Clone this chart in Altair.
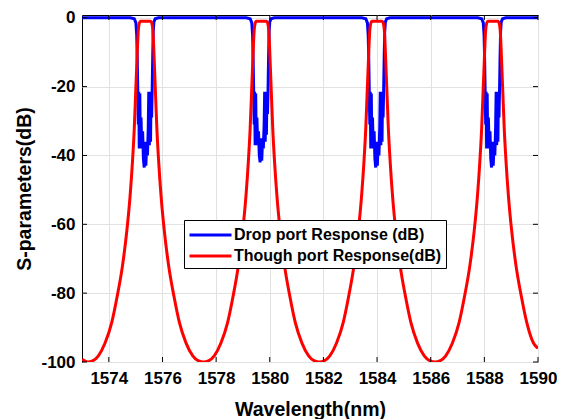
import altair as alt
import pandas as pd

DROP = "Drop port Response (dB)"
THRU = "Though port Response(dB)"

x_ticks = [1574, 1576, 1578, 1580, 1582, 1584, 1586, 1588, 1590]
y_ticks = [0, -20, -40, -60, -80, -100]

drop_wl = [
    1573.00, 1574.80,
    1574.95, 1575.01, 1575.04, 1575.06, 1575.08, 1575.10, 1575.115, 1575.135, 1575.155, 1575.175,
    1575.20, 1575.23, 1575.26, 1575.29, 1575.32, 1575.35, 1575.38, 1575.41, 1575.44, 1575.47,
    1575.49, 1575.51, 1575.535, 1575.555, 1575.575, 1575.595, 1575.615, 1575.635, 1575.655, 1575.68, 1575.73,
    1575.85, 1579.12,
    1579.27, 1579.33, 1579.36, 1579.38, 1579.40, 1579.42, 1579.435, 1579.455, 1579.475, 1579.495,
    1579.52, 1579.55, 1579.58, 1579.61, 1579.64, 1579.67, 1579.70, 1579.73, 1579.76, 1579.79,
    1579.81, 1579.83, 1579.855, 1579.875, 1579.895, 1579.915, 1579.935, 1579.955, 1579.975, 1580.00, 1580.05,
    1580.17, 1583.43,
    1583.58, 1583.64, 1583.67, 1583.69, 1583.71, 1583.73, 1583.745, 1583.765, 1583.785, 1583.805,
    1583.83, 1583.86, 1583.89, 1583.92, 1583.95, 1583.98, 1584.01, 1584.04, 1584.07, 1584.10,
    1584.12, 1584.14, 1584.165, 1584.185, 1584.205, 1584.225, 1584.245, 1584.265, 1584.285, 1584.31, 1584.36,
    1584.48, 1587.75,
    1587.90, 1587.96, 1587.99, 1588.01, 1588.03, 1588.05, 1588.065, 1588.085, 1588.105, 1588.125,
    1588.15, 1588.18, 1588.21, 1588.24, 1588.27, 1588.30, 1588.33, 1588.36, 1588.39, 1588.42,
    1588.44, 1588.46, 1588.485, 1588.505, 1588.525, 1588.545, 1588.565, 1588.585, 1588.605, 1588.63, 1588.68,
    1588.80, 1590.00,
]
drop_db = [
    0, 0,
    -0.3, -1.5, -5, -12, -21.5, -31, -21.5, -38, -22, -37,
    -29, -38, -33, -41, -43.5, -36, -43, -37, -40, -32,
    -21.5, -37, -22, -36, -21.5, -29, -21.5, -12, -4, -1.2, -0.3,
    0, 0,
    -0.3, -1.5, -5, -12, -21.5, -31, -21.5, -37, -22, -36,
    -29, -37, -33, -40, -42, -35, -41.5, -36, -38, -31,
    -21.5, -36, -22, -34, -21.5, -28, -21.5, -12, -4, -1.2, -0.3,
    0, 0,
    -0.3, -1.5, -5, -12, -21.5, -31, -21.5, -38, -22, -37,
    -29, -38, -33, -41, -43.5, -36, -43, -37, -40, -32,
    -21.5, -37, -22, -36, -21.5, -29, -21.5, -12, -4, -1.2, -0.3,
    0, 0,
    -0.3, -1.5, -5, -12, -21.5, -31, -21.5, -38, -22, -37,
    -29, -38, -33, -41, -43.5, -36, -43, -37, -40, -32,
    -21.5, -37, -22, -36, -21.5, -29, -21.5, -12, -4, -1.2, -0.3,
    0, 0,
]

through_wl = [
    1573.00, 1573.21,
    1573.41, 1573.61, 1573.86, 1574.11, 1574.31, 1574.51, 1574.67, 1574.79,
    1574.88, 1574.95, 1575.00, 1575.04, 1575.07, 1575.10, 1575.14, 1575.18,
    1575.56, 1575.60, 1575.64, 1575.67, 1575.70, 1575.74, 1575.79, 1575.86,
    1575.95, 1576.07, 1576.23, 1576.43, 1576.63, 1576.88, 1577.13, 1577.33, 1577.53,
    1577.73, 1577.93, 1578.18, 1578.43, 1578.63, 1578.83, 1578.99, 1579.11,
    1579.20, 1579.27, 1579.32, 1579.36, 1579.39, 1579.42, 1579.46, 1579.50,
    1579.88, 1579.92, 1579.96, 1579.99, 1580.02, 1580.06, 1580.11, 1580.18,
    1580.27, 1580.39, 1580.55, 1580.75, 1580.95, 1581.20, 1581.45, 1581.65, 1581.85,
    1582.04, 1582.24, 1582.49, 1582.74, 1582.94, 1583.14, 1583.30, 1583.42,
    1583.51, 1583.58, 1583.63, 1583.67, 1583.70, 1583.73, 1583.77, 1583.81,
    1584.19, 1584.23, 1584.27, 1584.30, 1584.33, 1584.37, 1584.42, 1584.49,
    1584.58, 1584.70, 1584.86, 1585.06, 1585.26, 1585.51, 1585.76, 1585.96, 1586.16,
    1586.36, 1586.56, 1586.81, 1587.06, 1587.26, 1587.46, 1587.62, 1587.74,
    1587.83, 1587.90, 1587.95, 1587.99, 1588.02, 1588.05, 1588.09, 1588.13,
    1588.51, 1588.55, 1588.59, 1588.62, 1588.65, 1588.69, 1588.74, 1588.81,
    1588.90, 1589.02, 1589.18, 1589.38, 1589.58, 1589.83, 1590.00,
]
through_db = [
    -99.2, -100,
    -99.6, -98.2, -94.5, -88.5, -81, -72, -62, -52,
    -42, -32, -22, -14, -8, -3.5, -1.5, -1,
    -1, -1.5, -3.5, -8, -14, -22, -32, -42,
    -52, -62, -72, -81, -88.5, -94.5, -98.2, -99.6, -100,
    -99.6, -98.2, -94.5, -88.5, -81, -72, -62, -52,
    -42, -32, -22, -14, -8, -3.5, -1.5, -1,
    -1, -1.5, -3.5, -8, -14, -22, -32, -42,
    -52, -62, -72, -81, -88.5, -94.5, -98.2, -99.6, -100,
    -99.6, -98.2, -94.5, -88.5, -81, -72, -62, -52,
    -42, -32, -22, -14, -8, -3.5, -1.5, -1,
    -1, -1.5, -3.5, -8, -14, -22, -32, -42,
    -52, -62, -72, -81, -88.5, -94.5, -98.2, -99.6, -100,
    -99.6, -98.2, -94.5, -88.5, -81, -72, -62, -52,
    -42, -32, -22, -14, -8, -3.5, -1.5, -1,
    -1, -1.5, -3.5, -8, -14, -22, -32, -42,
    -52, -62, -72, -81, -88.5, -94.5, -96,
]

W, H = 456, 347
FONT = "Liberation Sans"

drop_df = pd.DataFrame({"wl": drop_wl, "db": drop_db, "series": DROP,
                        "i": list(range(len(drop_wl)))})
thru_df = pd.DataFrame({"wl": through_wl, "db": through_db, "series": THRU,
                        "i": list(range(len(through_wl)))})

xs = alt.Scale(domain=[1573, 1590], nice=False, zero=False)
ys = alt.Scale(domain=[-100, 0.8], nice=False, zero=False)

color = alt.Color(
    "series:N",
    scale=alt.Scale(domain=[DROP, THRU], range=["#0000ff", "#ff0000"]),
    legend=alt.Legend(
        title=None, orient="none", legendX=102, legendY=205,
        symbolType="M-1,0L3.42,0", symbolSize=361, symbolStrokeWidth=3,
        labelFont=FONT, labelFontSize=16, labelFontWeight="bold", labelColor="black",
        labelOffset=24, labelLimit=500, strokeColor="black", fillColor="white",
        padding=4, rowPadding=2, cornerRadius=0,
    ),
)

xaxis = alt.Axis(
    values=x_ticks, labelExpr="'' + datum.value", grid=True, gridColor="#e2e2e2",
    ticks=False, domain=False, labelFont=FONT, labelFontSize=17,
    labelFontWeight="bold", labelColor="black", labelPadding=8,
    labelOverlap=False, labelFlush=False,
    title="Wavelength(nm)", titleFont=FONT, titleFontSize=19.5,
    titleFontWeight="bold", titleColor="black", titlePadding=14,
)
yaxis = alt.Axis(
    values=y_ticks, labelExpr="'' + datum.value", grid=True, gridColor="#e2e2e2",
    ticks=False, domain=False, labelFont=FONT, labelFontSize=17,
    labelFontWeight="bold", labelColor="black", labelPadding=7,
    labelOverlap=False, labelFlush=False,
    title="S-parameters(dB)", titleFont=FONT, titleFontSize=19.5,
    titleFontWeight="bold", titleColor="black", titlePadding=6,
)

drop_line = alt.Chart(drop_df).mark_line(strokeWidth=3, clip=True).encode(
    x=alt.X("wl:Q", scale=xs, axis=xaxis),
    y=alt.Y("db:Q", scale=ys, axis=yaxis),
    color=color,
    order="i:Q",
)
thru_line = alt.Chart(thru_df).mark_line(strokeWidth=3, clip=True, interpolate="monotone").encode(
    x=alt.X("wl:Q", scale=xs, axis=xaxis),
    y=alt.Y("db:Q", scale=ys, axis=yaxis),
    color=color,
    order="i:Q",
)

ytick_df = pd.DataFrame({"v": y_ticks})
xtick_df = pd.DataFrame({"v": x_ticks})

left_ticks = alt.Chart(ytick_df).mark_rule(color="black", strokeWidth=1).encode(
    y=alt.Y("v:Q", scale=ys, axis=yaxis), x=alt.value(0), x2=alt.value(5))
right_ticks = alt.Chart(ytick_df).mark_rule(color="black", strokeWidth=1).encode(
    y=alt.Y("v:Q", scale=ys, axis=yaxis), x=alt.value(W - 5), x2=alt.value(W))
bottom_ticks = alt.Chart(xtick_df).mark_rule(color="black", strokeWidth=1).encode(
    x=alt.X("v:Q", scale=xs, axis=xaxis), y=alt.value(H - 5), y2=alt.value(H))
top_ticks = alt.Chart(xtick_df).mark_rule(color="black", strokeWidth=1).encode(
    x=alt.X("v:Q", scale=xs, axis=xaxis), y=alt.value(0), y2=alt.value(5))

chart = alt.layer(
    drop_line, thru_line, left_ticks, right_ticks, bottom_ticks, top_ticks
).properties(
    width=W, height=H,
    padding={"left": 74, "top": 7, "right": 19, "bottom": 57},
    autosize=alt.AutoSizeParams(type="none"),
    background="white",
).configure_view(stroke="black", strokeWidth=1)

chart.save("out.html", embed_options={"renderer": "svg", "actions": False})
